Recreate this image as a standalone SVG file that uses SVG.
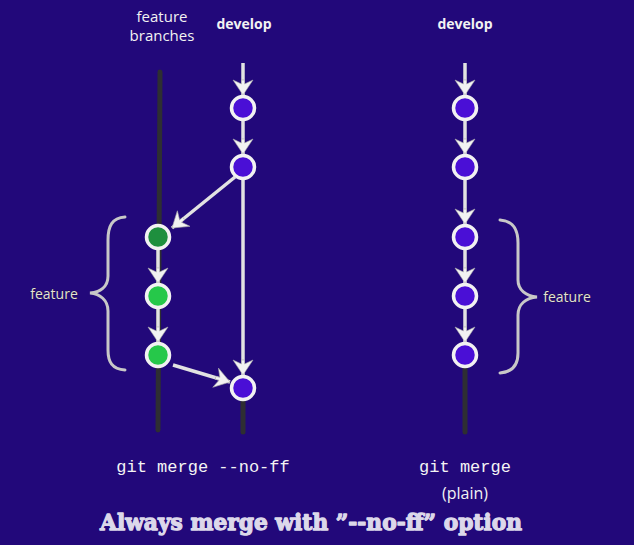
<svg xmlns="http://www.w3.org/2000/svg" width="634" height="545" viewBox="0 0 634 545">
<style>
.lbl{font-family:"Open Sans","Noto Sans",sans-serif;fill:#f2f2f2;font-size:15px;text-anchor:middle}
.bold{font-weight:bold;font-size:14px}
.side{font-family:"Open Sans","Noto Sans",sans-serif;fill:#e4e2d4;font-size:14px;text-anchor:middle;stroke:#111;stroke-width:0.4;paint-order:stroke}
.mono{font-family:"Liberation Mono","DejaVu Sans Mono",monospace;fill:#f4f4f4;font-size:17px;text-anchor:middle}
.title{font-family:"DejaVu Serif","Liberation Serif",serif;font-weight:bold;fill:#dcd8ea;font-size:23px;text-anchor:middle;stroke:#dcd8ea;stroke-width:1.3;stroke-linejoin:round}
.dark{stroke:#2e2e32;stroke-width:5;stroke-linecap:round;fill:none}
.wline{stroke:#e2e2e2;stroke-width:3.5;fill:none;marker-end:url(#ah)}
.brace{stroke:#c8c8c8;stroke-width:3;fill:none;stroke-linecap:round}
.node{stroke:#f2f2f2;stroke-width:3.5}
.dev{fill:#4a0fd6}
.g1{fill:#1e8f3e}
.g2{fill:#26c84a}
</style>
<defs>
<marker id="ah" viewBox="-16 -12 18 24" refX="0" refY="0" markerWidth="18" markerHeight="24" markerUnits="userSpaceOnUse" orient="auto">
<path d="M0,0 L-15,-10 L-11,-1.5 L-15,-1.5 L-15,1.5 L-11,1.5 L-15,10 Z" fill="#f2f2f2" stroke="#aaa" stroke-width="0.6" stroke-linejoin="round"/>
</marker>
</defs>
<rect width="634" height="545" fill="#22087a"/>
<g id="labels">
<text class="lbl" x="162" y="22">feature</text>
<text class="lbl" x="162" y="41">branches</text>
<text class="lbl bold" x="244" y="29">develop</text>
<text class="lbl bold" x="465" y="29">develop</text>
</g>
<g id="connectors">
<path class="dark" d="M160,72 L158,430"/>
<path class="dark" d="M243,398 L243,432"/>
<path class="dark" d="M465,366 L465,432"/>
<line class="wline" x1="243" y1="63" x2="243" y2="95"/>
<line class="wline" x1="243" y1="121" x2="243" y2="154"/>
<line class="wline" x1="243" y1="180" x2="243" y2="375"/>
<line class="wline" x1="235" y1="177" x2="172" y2="228"/>
<line class="wline" x1="158" y1="250" x2="158" y2="283"/>
<line class="wline" x1="158" y1="309" x2="158" y2="342"/>
<line class="wline" x1="173" y1="365" x2="230" y2="382"/>
<line class="wline" x1="465" y1="63" x2="465" y2="95"/>
<line class="wline" x1="465" y1="121" x2="465" y2="154"/>
<line class="wline" x1="465" y1="180" x2="465" y2="224"/>
<line class="wline" x1="465" y1="250" x2="465" y2="283"/>
<line class="wline" x1="465" y1="309" x2="465" y2="342"/>
</g>
<g id="brace-left">
<path class="brace" d="M125,217 C112,218 108,226 108,240 L108,276 C108,287 100,292 90,293 C100,294 108,300 108,311 L108,350 C108,362 112,369 125,370"/>
<text class="side" x="54" y="299">feature</text>
</g>
<g id="brace-right">
<path class="brace" d="M500,220 C513,221 518,229 518,243 L518,280 C518,290 526,296 537,297 C526,298 518,304 518,315 L518,353 C518,365 513,372 500,373"/>
<text class="side" x="567" y="302">feature</text>
</g>
<g id="node-d1"><circle class="node dev" cx="243" cy="108" r="11.5"/></g>
<g id="node-d2"><circle class="node dev" cx="243" cy="167" r="11.5"/></g>
<g id="node-d3"><circle class="node dev" cx="243" cy="388" r="11.5"/></g>
<g id="node-f1"><circle class="node g1" cx="158" cy="237" r="11.5"/></g>
<g id="node-f2"><circle class="node g2" cx="158" cy="296" r="11.5"/></g>
<g id="node-f3"><circle class="node g2" cx="158" cy="355" r="11.5"/></g>
<g id="node-r1"><circle class="node dev" cx="465" cy="108" r="11.5"/></g>
<g id="node-r2"><circle class="node dev" cx="465" cy="167" r="11.5"/></g>
<g id="node-r3"><circle class="node dev" cx="465" cy="237" r="11.5"/></g>
<g id="node-r4"><circle class="node dev" cx="465" cy="296" r="11.5"/></g>
<g id="node-r5"><circle class="node dev" cx="465" cy="355" r="11.5"/></g>
<g id="captions">
<text class="mono" x="203" y="472">git merge --no-ff</text>
<text class="mono" x="465" y="472">git merge</text>
<text class="lbl" x="465" y="499" style="font-size:16px">(plain)</text>
<text class="title" x="311" y="530" textLength="422" lengthAdjust="spacingAndGlyphs">Always merge with ”--no-ff” option</text>
</g>
</svg>
